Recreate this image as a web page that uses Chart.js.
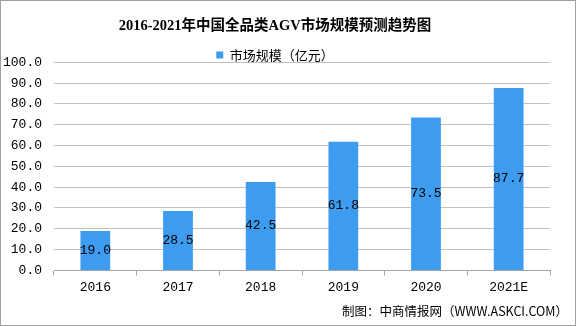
<!DOCTYPE html>
<html>
<head>
<meta charset="utf-8">
<script src="https://cdn.jsdelivr.net/npm/chart.js@4"></script>
<style>
  body { margin: 0; background: #fff; }
  #wrap { width: 576px; height: 326px; }
</style>
</head>
<body>
<div id="wrap"><canvas id="agvChart" width="576" height="326"></canvas></div>
<script>
let years = ['2016', '2017', '2018', '2019', '2020', '2021E'];
let marketSize = [19.0, 28.5, 42.5, 61.8, 73.5, 87.7];
let seriesName = '市场规模（亿元）';
let titleText = '2016-2021年中国全品类AGV市场规模预测趋势图';
let sourceText = '制图：中商情报网（WWW.ASKCI.COM）';

let numFont = "'Liberation Mono', 'Noto Sans CJK SC', monospace";
let cjkFont = "'Noto Sans CJK SC', sans-serif";

// value labels in the middle of each bar
let valueLabels = {
    id: 'valueLabels',
    afterDatasetsDraw(chart) {
        let ctx = chart.ctx;
        let meta = chart.getDatasetMeta(0);
        ctx.save();
        ctx.font = '13px ' + numFont;
        ctx.fillStyle = '#000';
        ctx.textAlign = 'center';
        ctx.textBaseline = 'middle';
        meta.data.forEach((bar, i) => {
            let v = chart.data.datasets[0].data[i];
            ctx.fillText(v.toFixed(1), bar.x, (bar.y + bar.base) / 2);
        });
        ctx.restore();
    }
};

// white background, grey frame and the source line at bottom right
let frame = {
    id: 'frame',
    beforeDraw(chart) {
        let ctx = chart.ctx;
        ctx.save();
        ctx.fillStyle = '#fff';
        ctx.fillRect(0, 0, chart.width, chart.height);
        ctx.strokeStyle = '#a0a0a0';
        ctx.lineWidth = 1;
        ctx.strokeRect(0.5, 0.5, chart.width - 1, chart.height - 1);
        ctx.restore();
    },
    afterDraw(chart) {
        let ctx = chart.ctx;
        ctx.save();
        ctx.font = '12.5px ' + cjkFont;
        ctx.fillStyle = '#000';
        ctx.textAlign = 'right';
        ctx.textBaseline = 'middle';
        ctx.fillText(sourceText, chart.width - 8, 311);
        ctx.restore();
    }
};

// legend sits tight on the plot, so trim the extra room chart.js gives it
let tightLegend = {
    id: 'tightLegend',
    beforeLayout(chart) {
        let lg = chart.legend;
        if (lg && !lg._tight) {
            let fit = lg.fit.bind(lg);
            lg.fit = function () { fit(); this.height = 14; };
            lg._tight = true;
        }
    }
};

let ctx = document.getElementById('agvChart').getContext('2d');
let chart = new Chart(ctx, {
    type: 'bar',
    data: {
        labels: years,
        datasets: [{
            label: seriesName,
            data: marketSize,
            backgroundColor: '#3d9cf0',
            categoryPercentage: 1,
            barPercentage: 0.36
        }]
    },
    options: {
        responsive: false,
        animation: false,
        layout: { padding: { left: 0, right: 26, top: 0, bottom: 27 } },
        plugins: {
            title: {
                display: true,
                text: titleText,
                color: '#000',
                font: { family: "'Liberation Serif', " + cjkFont, size: 14.5, weight: 'bold', lineHeight: 1.2 },
                padding: { top: 18, bottom: 13 }
            },
            legend: {
                position: 'top',
                labels: {
                    color: '#000',
                    font: { family: cjkFont, size: 13 },
                    boxWidth: 7,
                    boxHeight: 7,
                    padding: 0
                }
            },
            tooltip: { enabled: false }
        },
        scales: {
            x: {
                grid: {
                    offset: true,
                    drawOnChartArea: false,
                    tickLength: 5,
                    color: '#a6a6a6'
                },
                border: { color: '#a6a6a6' },
                ticks: {
                    color: '#000',
                    font: { family: numFont, size: 13 },
                    padding: 4
                }
            },
            y: {
                min: 0,
                max: 100,
                afterFit(scale) { scale.width = 54; },
                grid: {
                    color: '#c0c0c0',
                    drawTicks: false
                },
                border: { display: false },
                ticks: {
                    stepSize: 10,
                    color: '#000',
                    font: { family: numFont, size: 13 },
                    padding: 12,
                    callback: (v) => v.toFixed(1)
                }
            }
        }
    },
    plugins: [frame, tightLegend, valueLabels]
});
</script>
</body>
</html>
